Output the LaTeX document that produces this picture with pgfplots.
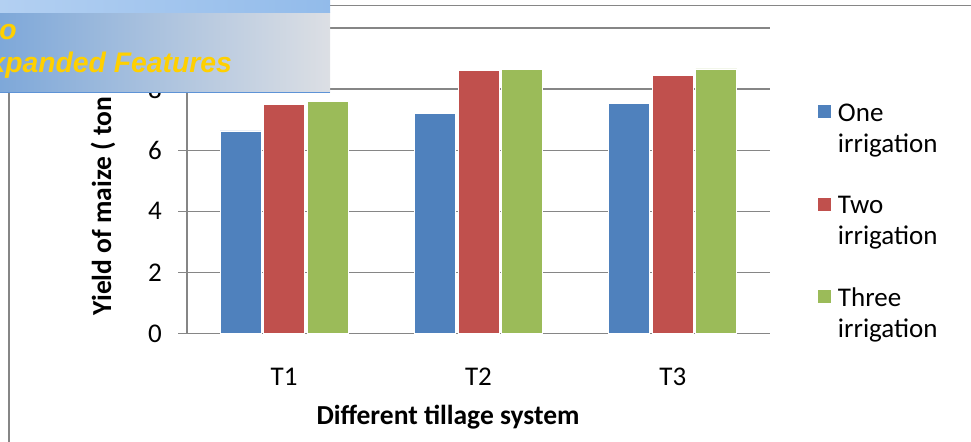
\documentclass[border=0pt]{standalone}
\usepackage{pgfplots}
\pgfplotsset{compat=1.18}
\usepackage{fontspec}
\setmainfont{Carlito}
\newfontfamily\bannerfont{Liberation Sans}

\definecolor{serA}{HTML}{4F81BD}
\definecolor{serB}{HTML}{C0504D}
\definecolor{serC}{HTML}{9BBB59}
\definecolor{gridgray}{HTML}{868686}
\definecolor{bannerL}{HTML}{7EA8D9}
\definecolor{bannerR}{HTML}{DCDFE4}
\definecolor{stripL}{HTML}{B3D0F2}
\definecolor{stripR}{HTML}{92BBEA}
\definecolor{bannerLine}{HTML}{5E93D6}
\definecolor{bannerText}{HTML}{FFD000}

% maize yield (t/ha) per tillage system, x = 0,1,2 for T1..T3
\pgfplotstableread{
x y
0 6.63
1 7.19
2 7.53
}\oneirr
\pgfplotstableread{
x y
0 7.51
1 8.61
2 8.44
}\twoirr
\pgfplotstableread{
x y
0 7.59
1 8.64
2 8.66
}\threeirr

\begin{document}
\begin{tikzpicture}[x=1bp,y=1bp]
\begin{axis}[
  at={(187bp,108.5bp)}, anchor=south west,
  scale only axis, width=583bp, height=305.5bp,
  xmin=-0.5, xmax=2.5, ymin=0, ymax=10,
  ytick={0,2,4,6,8,10},
  xtick={0,1,2}, xticklabels={T1,T2,T3},
  ybar=2.5bp, bar width=41bp,
  axis x line*=bottom, axis y line*=left,
  axis line style={gridgray, line width=1.2bp},
  ymajorgrids, grid style={gridgray, line width=1.2bp},
  tick align=outside, major tick length=9bp,
  ytick style={gridgray, line width=1.2bp},
  xtick style={draw=none},
  /pgf/number format/assume math mode=true,
  tick label style={font=\fontsize{27bp}{31bp}\selectfont, text=black},
  yticklabel style={anchor=east, inner sep=0pt, xshift=-16bp},
  xticklabel style={anchor=base, inner sep=0pt, yshift=-43.2bp},
  xlabel={Different tillage system},
  ylabel={Yield of maize ( ton /ha)},
  label style={font=\bfseries\fontsize{27.5bp}{31bp}\selectfont},
  xlabel style={at={(axis description cs:0.4477,-0.2733)}, anchor=center},
  ylabel style={at={(axis description cs:-0.1441,0.058)}, anchor=west, inner sep=0pt},
  legend style={draw=none, fill=none, inner sep=0pt, outer sep=0pt,
    at={(axis description cs:1.0823,0.7578)}, anchor=north west,
    cells={align=left}, row sep=38.2bp, column sep=5bp,
    font=\fontsize{27bp}{31bp}\selectfont},
  legend cell align=left,
  legend image code/.code={%
    \path[#1, draw=none] (0bp,10.5bp) rectangle (13bp,23.5bp);},
]
\addplot[fill=serA, draw=white, line width=0.8bp] table[x=x,y=y] {\oneirr};
\addlegendentry{One\\irrigation}
\addplot[fill=serB, draw=white, line width=0.8bp] table[x=x,y=y] {\twoirr};
\addlegendentry{Two\\irrigation}
\addplot[fill=serC, draw=white, line width=0.8bp] table[x=x,y=y] {\threeirr};
\addlegendentry{Three\\irrigation}
\end{axis}

% chart area border
\draw[gridgray, line width=1.3bp] (9,0) -- (9,349);
\draw[gridgray, line width=1.3bp] (330,436.3) -- (971,436.3);

% banner
\shade[left color=bannerL, right color=bannerR] (0,349) rectangle (330,429.3);
\shade[left color=stripL, right color=stripR] (0,429.3) rectangle (330,442);
\draw[bannerLine, line width=1.5bp] (0,349.5) -- (330,349.5);
\begin{scope}
  \clip (0,349) rectangle (330,429.3);
  \node[anchor=base east, inner sep=0pt, text=bannerText,
    font=\bannerfont\fontsize{28.3bp}{32bp}\bfseries\itshape\selectfont]
    at (17,402) {Click Here to upgrade to};
  \node[anchor=base east, inner sep=0pt, text=bannerText,
    font=\bannerfont\fontsize{28.3bp}{32bp}\bfseries\itshape\selectfont]
    at (232,369.3) {Unlimited Pages and Expanded Features};
\end{scope}
\pgfresetboundingbox
\useasboundingbox (0,0) rectangle (971,442);
\end{tikzpicture}
\end{document}
